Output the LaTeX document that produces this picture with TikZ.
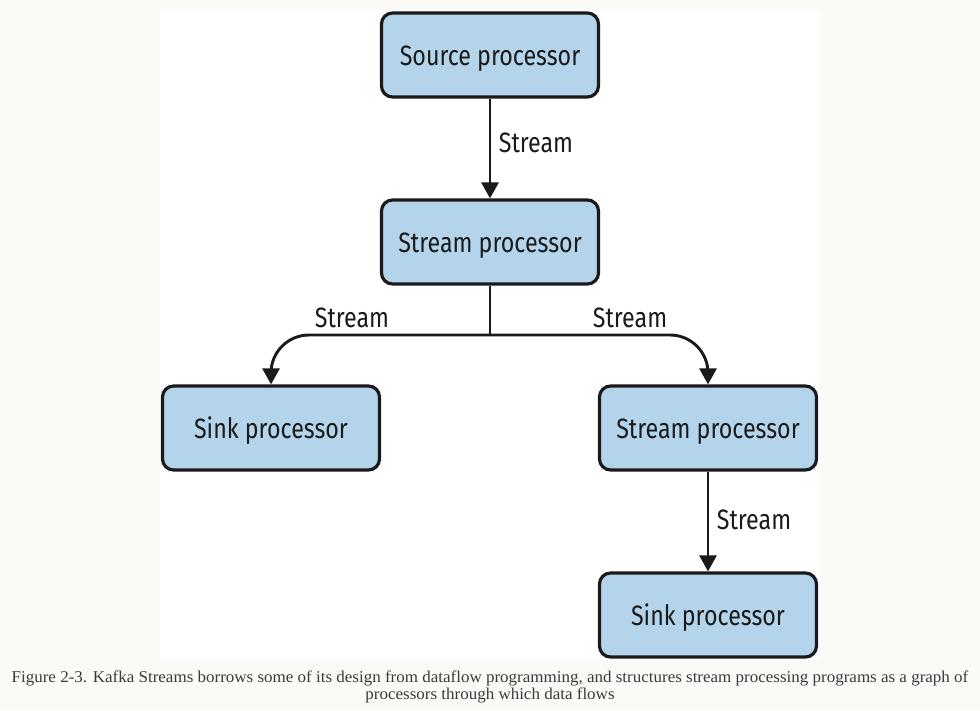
\documentclass[tikz,border=0pt]{standalone}
\usepackage{fontspec}
\setmainfont[FakeStretch=1.03]{Liberation Serif}
\newfontfamily\boxfont[FakeStretch=0.83]{Fira Sans}
\usetikzlibrary{arrows.meta}
\definecolor{boxblue}{HTML}{B3D4EA}
\definecolor{pagebg}{HTML}{FBFAF6}
\definecolor{ink}{HTML}{1A1A1A}
\definecolor{captink}{HTML}{3A3A3A}
\begin{document}
\begin{tikzpicture}[x=1pt,y=-1pt,
  procbox/.style={draw=ink,fill=boxblue,line width=3.2pt,rounded corners=11pt,
    minimum width=217pt,minimum height=84pt,inner sep=0pt,
    text height=24pt,text depth=4pt,
    font=\boxfont\fontsize{28}{30}\selectfont,text=ink},
  flow/.style={draw=ink,line width=2.9pt,-{Triangle[width=17pt,length=16pt]}},
  plainflow/.style={draw=ink,line width=2.9pt},
  lbl/.style={font=\boxfont\fontsize{28}{30}\selectfont,text=ink,inner sep=0pt},
  capt/.style={font=\fontsize{16.5}{16.5}\selectfont,text=captink,inner sep=0pt}]
\fill[pagebg] (0,0) rectangle (980,710);
\useasboundingbox (0,0) rectangle (980,710);
\fill[white] (160,10) rectangle (820,660);
\node[procbox] (src) at (490,55) {Source processor};
\node[procbox] (sp1) at (490,242) {Stream processor};
\node[procbox] (sink1) at (271,428) {Sink processor};
\node[procbox] (sp2) at (708,428) {Stream processor};
\node[procbox] (sink2) at (708,615) {Sink processor};
\coordinate (j) at (490,335);
\draw[flow] (src.south) -- (sp1.north);
\draw[plainflow] (sp1.south) -- (j);
\draw[flow,rounded corners=38pt] (j) -| (sink1.north);
\draw[flow,rounded corners=38pt] (j) -| (sp2.north);
\draw[flow] (sp2.south) -- (sink2.north);
\node[lbl] (l1) at (536,143) {Stream};
\node[lbl] (l2) at (352,318) {Stream};
\node[lbl] (l3) at (630,318) {Stream};
\node[lbl] (l4) at (754,520) {Stream};
\node[capt] (c1) at (490,678) {Figure 2-3. Kafka Streams borrows some of its design from dataflow programming, and structures stream processing programs as a graph of};
\node[capt] (c2) at (490,695) {processors through which data flows};
\end{tikzpicture}
\end{document}
